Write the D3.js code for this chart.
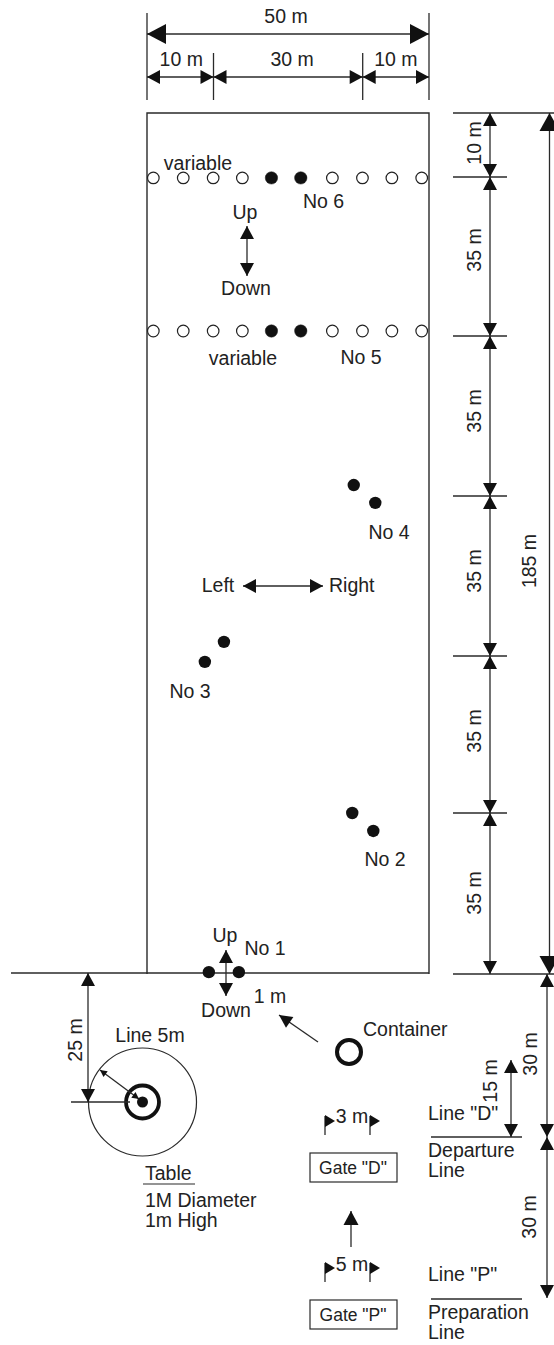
<!DOCTYPE html>
<html><head><meta charset="utf-8">
<script src="https://cdn.jsdelivr.net/npm/d3@7/dist/d3.min.js"></script>
<style>html,body{margin:0;padding:0;background:#fff}svg{display:block}text{font-family:"Liberation Sans",Arial,sans-serif;fill:#222}</style>
</head><body><svg id="c" width="554" height="1345"></svg>
<script>
// ---- values, in metres ----
const fieldWidth = [0, 10, 40, 50];
const fieldLengthMarks = [0, 35, 70, 105, 140, 175, 185];
const offFieldMarks = [-30, -60];
const widthSpans = [[0, 50, "50 m"], [0, 10, "10 m"], [10, 40, "30 m"], [40, 50, "10 m"]];
const lengthSpans = [[175, 185, "10 m"], [140, 175, "35 m"], [105, 140, "35 m"], [70, 105, "35 m"], [35, 70, "35 m"], [0, 35, "35 m"]];
const rowX = [0.95, 5.45, 9.95, 15.8, 21.65, 27.55, 33.9, 39.95, 44.4, 48.9];
const rowFilled = [0, 0, 0, 0, 1, 1, 0, 0, 0, 0];
const rowMetres = [174.8, 141.1];
const pairNames = ["No 1", "No 2", "No 3", "No 4"];
const pairX = [[9.3, 15.1], [37.9, 41.6], [12.1, 8.7], [38.2, 41.9]];
const pairM = [[0.4, 0.4], [35, 31.1], [73.1, 68.7], [107.4, 103.5]];

// ---- scales ----
const x = d3.scaleLinear().domain(fieldWidth).range([147, 213.5, 362.7, 429]);
const y = d3.scaleLinear().domain([...offFieldMarks.slice().reverse(), ...fieldLengthMarks])
  .range([1298, 1137, 974, 813, 656, 496, 336, 177, 113]);

const svg = d3.select("#c");
const ink = "#2a2a2a";
const line = (x1, y1, x2, y2, w = 1.3) => svg.append("line").attr("x1", x1).attr("y1", y1).attr("x2", x2).attr("y2", y2).attr("stroke", ink).attr("stroke-width", w);
const head = (tx, ty, fx, fy, len, hw) => {
  const a = Math.atan2(ty - fy, tx - fx), c = Math.cos(a), s = Math.sin(a);
  const bx = tx - c * len, by = ty - s * len;
  svg.append("path").attr("fill", "#111")
    .attr("d", d3.line()([[tx, ty], [bx - s * hw, by + c * hw], [bx + s * hw, by - c * hw]]) + "Z");
};
const arrow = (x1, y1, x2, y2, len = 13, hw = 7, both = true, w = 1.3) => {
  line(x1, y1, x2, y2, w);
  head(x2, y2, x1, y1, len, hw);
  if (both) head(x1, y1, x2, y2, len, hw);
};
const FS = 19.5;
const text = (s, px, py, anchor = "start", size = FS) => svg.append("text").attr("x", px).attr("y", py).attr("text-anchor", anchor).attr("font-size", size).text(s);
const vtext = (s, px, py, size = FS) => svg.append("text").attr("transform", `translate(${px},${py}) rotate(-90)`).attr("text-anchor", "middle").attr("font-size", size).text(s);

// field
svg.append("path").attr("fill", "none").attr("stroke", ink).attr("stroke-width", 1.4)
  .attr("d", d3.line()([[x(0), y(0)], [x(0), y(185)], [x(50), y(185)], [x(50), y(0)]]));
line(11, y(0) - 1, x(50), y(0) - 1, 1.4);

// width dimensions
[0, 50].forEach(m => line(x(m), 13, x(m), 100));
[10, 40].forEach(m => line(x(m), 53, x(m), 100));
widthSpans.forEach(([a, b, label], i) => {
  const main = i === 0, ly = main ? 34 : 77;
  arrow(x(a), ly, x(b), ly, main ? 19 : 13, main ? 10 : 7);
  const dx = i === 0 ? -2 : i === 1 ? 1 : i === 2 ? 4 : 0;
  text(label, (x(a) + x(b)) / 2 + dx, main ? 23 : 66, "middle");
});

// length dimensions
const dimX = 490;
fieldLengthMarks.forEach(m => {
  if (m === 185 || m === 0) line(453, y(m), 554, y(m));
  else line(453, y(m), 507, y(m));
});
const spanLabelShift = [-2, -6.5, -5, -5, -3.5, -0.5];
lengthSpans.forEach(([a, b, label], i) => {
  arrow(dimX, y(a), dimX, y(b));
  vtext(label, 481, (y(a) + y(b)) / 2 + spanLabelShift[i]);
});
arrow(549.5, y(0), 549.5, y(185), 18, 10);
vtext("185 m", 536, 561);

// cones in rows
rowMetres.forEach(m => rowX.forEach((v, i) => {
  svg.append("circle").attr("cx", x(v)).attr("cy", y(m))
    .attr("r", rowFilled[i] ? 6.2 : 5.8)
    .attr("fill", rowFilled[i] ? "#111" : "#fff")
    .attr("stroke", "#222").attr("stroke-width", rowFilled[i] ? 0.5 : 1.2);
}));
// cone pairs
pairX.forEach((xs, i) => xs.forEach((v, j) => {
  svg.append("circle").attr("cx", x(v)).attr("cy", y(pairM[i][j])).attr("r", 6.2).attr("fill", "#111");
}));

// field labels
text("variable", 198, 170, "middle");
text("No 6", 303, 208);
text("Up", 245, 219, "middle");
arrow(247, 226, 247, 276, 13, 7);
text("Down", 246, 295, "middle");
text("variable", 243, 365, "middle");
text("No 5", 361, 364, "middle");
text("No 4", 389, 539, "middle");
text("Left", 218, 592, "middle");
arrow(243, 586, 323, 586, 13, 7);
text("Right", 329, 592);
text("No 3", 190, 698, "middle");
text("No 2", 385, 866, "middle");
text("Up", 225, 942, "middle");
text("No 1", 265, 955, "middle");
arrow(226, 950, 226, 996, 13, 7);
text("Down", 226, 1017, "middle");
text("1 m", 270, 1003, "middle");

// container
arrow(318, 1042, 279, 1015, 13, 6.5, false);
text("Container", 363, 1036);
svg.append("circle").attr("cx", 349).attr("cy", 1052).attr("r", 12).attr("fill", "none").attr("stroke", "#111").attr("stroke-width", 4);

// table
svg.append("circle").attr("cx", 142.5).attr("cy", 1102).attr("r", 54).attr("fill", "none").attr("stroke", ink).attr("stroke-width", 1.2);
svg.append("circle").attr("cx", 142.5).attr("cy", 1102).attr("r", 16.5).attr("fill", "none").attr("stroke", "#111").attr("stroke-width", 3.8);
svg.append("circle").attr("cx", 142.5).attr("cy", 1102).attr("r", 5.5).attr("fill", "#111");
line(71, 1102, 130, 1102);
arrow(88, y(0) - 1, 88, 1102, 13, 7);
vtext("25 m", 82, 1040);
text("Line 5m", 150, 1042, "middle");
arrow(100, 1070, 139, 1099, 7, 3.5);
text("Table", 145, 1180);
line(143, 1184, 195, 1184, 1.2);
text("1M Diameter", 145, 1207);
text("1m High", 145, 1227);

// gates
const flags = (cx1, cx2, top, bottom, mid) => [cx1, cx2].forEach(px => {
  line(px, top, px, bottom);
  head(px + 10, mid, px, mid, 10, 6);
});
flags(325, 370, 1116, 1135, 1121);
text("3 m", 352, 1123, "middle");
flags(325, 370, 1263, 1282, 1268);
text("5 m", 352, 1271, "middle");
const gate = (label, top, base) => {
  svg.append("rect").attr("x", 310).attr("y", top).attr("width", 87).attr("height", 29).attr("fill", "none").attr("stroke", ink).attr("stroke-width", 1.2);
  text(label, 353, base, "middle", 17.5);
};
gate('Gate "D"', 1153, 1174);
gate('Gate "P"', 1300, 1321);
arrow(351, 1247, 351, 1211, 14, 7.5, false);

// departure / preparation
text('Line "D"', 428, 1120);
line(431, y(-30), 522, y(-30));
text("Departure", 428, 1156.5);
text("Line", 428, 1176.5);
vtext("15 m", 497, 1081);
arrow(511, 1060, 511, y(-30), 13, 7);
text('Line "P"', 428, 1281);
line(431, y(-60) + 1, 522, y(-60) + 1);
text("Preparation", 428, 1318.5);
text("Line", 428, 1338.5);
arrow(547, y(0), 547, y(-30), 13, 7);
arrow(547, y(-30), 547, y(-60), 13, 7);
vtext("30 m", 537, 1054);
vtext("30 m", 536, 1217);
</script></body></html>
